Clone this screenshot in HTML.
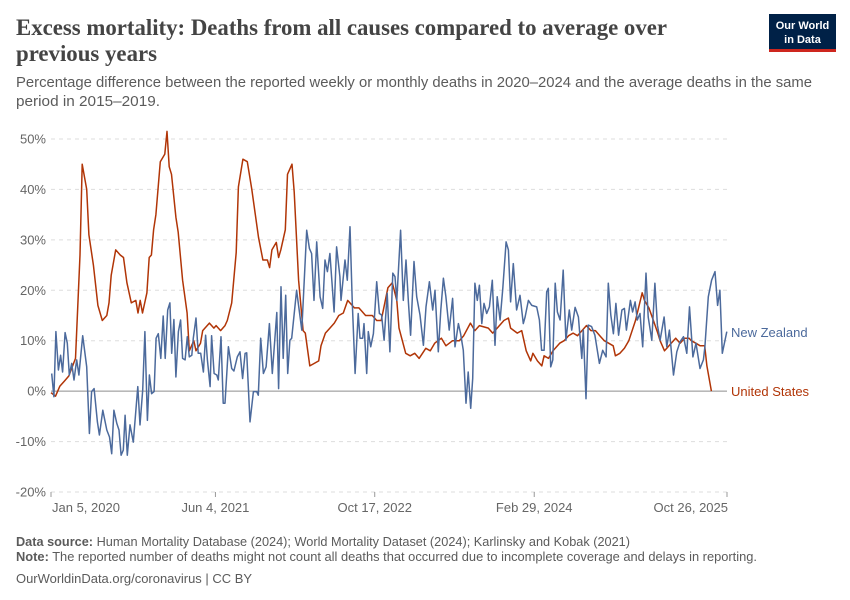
<!DOCTYPE html>
<html><head><meta charset="utf-8"><style>
html,body{margin:0;padding:0;background:#fff;width:850px;height:600px;overflow:hidden}
svg{display:block;font-family:"Liberation Sans",sans-serif}
</style></head><body>
<svg id="chart" width="850" height="600" viewBox="0 0 850 600">
<text x="16" y="35" font-family="Liberation Serif,serif" font-size="23" font-weight="bold" fill="#444" textLength="651" lengthAdjust="spacingAndGlyphs">Excess mortality: Deaths from all causes compared to average over</text>
<text x="16" y="61" font-family="Liberation Serif,serif" font-size="23" font-weight="bold" fill="#444" textLength="141" lengthAdjust="spacingAndGlyphs">previous years</text>
<g>
<rect x="769" y="14" width="67" height="38" fill="#002147"/>
<rect x="769" y="49" width="67" height="3" fill="#ce261e"/>
<text x="802.5" y="29" text-anchor="middle" font-size="11" font-weight="bold" fill="#fff">Our World</text>
<text x="802.5" y="43" text-anchor="middle" font-size="11" font-weight="bold" fill="#fff">in Data</text>
</g>
<text x="16" y="87" font-size="14.5" fill="#5b5b5b" textLength="796" lengthAdjust="spacingAndGlyphs">Percentage difference between the reported weekly or monthly deaths in 2020–2024 and the average deaths in the same</text>
<text x="16" y="106" font-size="14.5" fill="#5b5b5b" textLength="144" lengthAdjust="spacingAndGlyphs">period in 2015–2019.</text>
<g id="grid"></g>
<g id="yticks"></g>
<g id="xticks"></g>
<g id="series"></g>
<text x="731" y="337" font-size="13" fill="#4c6a9c">New Zealand</text>
<text x="731" y="396" font-size="13" fill="#b13507">United States</text>
<text x="16" y="546" font-size="12.5" fill="#5b5b5b" textLength="614" lengthAdjust="spacingAndGlyphs"><tspan font-weight="bold">Data source:</tspan> Human Mortality Database (2024); World Mortality Dataset (2024); Karlinsky and Kobak (2021)</text>
<text x="16" y="561" font-size="12.5" fill="#5b5b5b" textLength="741" lengthAdjust="spacingAndGlyphs"><tspan font-weight="bold">Note:</tspan> The reported number of deaths might not count all deaths that occurred due to incomplete coverage and delays in reporting.</text>
<text x="16" y="583" font-size="12.5" fill="#5b5b5b" textLength="236" lengthAdjust="spacingAndGlyphs">OurWorldinData.org/coronavirus | CC BY</text>
</svg>
<script>
const yTicks=[50,40,30,20,10,0,-10,-20];
const xTickLabels=["Jan 5, 2020","Jun 4, 2021","Oct 17, 2022","Feb 29, 2024","Oct 26, 2025"];
const xTickWeeks=[0,73.7,145.1,216.6,303];
const usWeek=[0,2,4,6,8,11,13,14,16,17,19,21,23,25,26,27,29,31,32.5,34,36,38,39,40,41,43,44,45,46,47,49,51,52,53,54,56,57,59,61,62,64,65,67,68,71,73,74,76,78,79,81,83,84,86,88,90,93,95,97,98,99,101,102,103,105,106,108,109,111,113,114,116,118,120,121,123,125,127,129,131,133,136,138,141,144,146,148,151,153,155,156,159,161,163,165,168,170,172,175,177,180,183,185,188,190,192,196,198,200,203,205,206,209,211,213,215,216,218,220,221,223,225,228,230,232,234,236,238,240,242,244,246,248,252,253,255,257,259,262,265,266,268,270,272,273,275,276,278,280,282,284,286,287,289,291,292,293,294,296];
const usValue=[-0.3,-1,1,2,3,6.5,27,45,40,31,25,17,14,15,17.5,23,28,27,26.5,21.5,17.5,18,15.5,18,15.5,19.5,26.5,27,32,35,45.5,47,51.5,44.5,43,34.5,31.5,22,15.5,8,10,8,9.5,12,13.5,12.5,13,12,13,14,17.5,27.5,40.5,46,45.5,40,30.5,26,26,24.5,28,29.5,26.5,28,32,43,45,39.5,22,12,11.5,5,5.5,6,9,11.5,12.5,13.5,15,15.5,18,16.5,16.5,15,15,14,14,20.5,21.5,18,12.5,7.5,7,7.5,6.5,8.5,8,9.5,10.5,9,10,10,11,13.5,12,13,12.5,11.5,12.5,14,14.5,12.5,11.5,12,8,6,7.5,6,5,7,6.5,8,9.5,10,11,11.5,11,12,13,12,12,11,10,9,7,7.5,8.5,10,14,19.5,18,16.5,14,11.5,10,8,8.5,9.5,10.5,9.5,10.5,10.5,10,9.5,9,9,9,5,0];
const nzWeek=[0.3,1.3,2.2,3.3,4.3,5.2,6.3,7.3,8.2,9.3,10.3,11.5,12.5,14.2,16,17.2,18.2,19.3,20.8,21.7,23.2,25,26.2,27.2,28.2,29.5,30.5,31.4,32.4,33.2,34.2,35.4,36.9,38.9,39.9,41.1,42.1,43.2,44.1,45.1,46.2,47.1,48.1,49.2,50.3,51.2,52.3,53.3,54.1,55.1,56,57.1,58.1,59,60.1,61.1,62,63.1,63.8,65,66,67.1,68.3,69.3,70.1,71.3,72,73.1,74.3,75,76.2,77.2,78,79.5,81,82,83.5,84.7,85.9,87,87.7,89.2,90.7,92.2,92.9,94,95.2,96.4,97.9,99.2,101.2,102,103.1,104.1,105.2,106.1,107.1,107.9,110.1,112.4,114.6,115.8,116.8,117.9,119.1,120.6,121.8,122.8,123.9,125,126.9,128,129.5,130,131.8,132.8,134,135,136.3,137.7,138.5,139.7,140.3,141.5,142.2,143.3,144.5,146,147.2,148.2,149.3,150.7,151.9,153.2,154.2,155,156.7,157.9,159.1,160.2,161.2,162.7,163.9,165.4,166.9,168.1,169.6,171.1,172.1,173.6,174.7,175.9,177,178.5,180,181.1,182.6,183.6,184.8,186,187,188.1,189,190,191.1,192,193.1,194.1,195.3,196.5,197.8,199,200,201.3,202.5,204,205,206,207.2,208.7,210.2,211.7,212.5,214,215.5,217.7,218.9,219.9,221,222.2,222.9,224,224.9,226,227,228.2,229.6,230.8,232.3,233.4,234.9,236.4,237.9,238.6,239.8,240.8,242.3,243.8,245.8,247.3,248.8,249.8,250.9,252.1,253.2,254.4,255.9,257,257.9,259.7,260.7,261.8,262.8,264,265.2,266.7,267.7,269.3,270.7,271.8,273,274.8,276,277.2,279,280.5,282,283.5,285,286.2,287.7,289.1,290.9,292.4,293.1,294.6,296.1,297.6,298.8,299.8,300.9,302.9];
const nzValue=[3.5,-1.1,11.8,4.2,7.1,3.8,11.6,9.5,3.2,5.5,2.2,6.2,3.2,11,4.8,-8.4,-0.1,0.5,-6.1,-8.7,-3.8,-7.7,-9.1,-12.4,-3.8,-6.4,-7.7,-12.7,-11.7,-4.8,-12.7,-6.7,-10.1,0.9,-6.7,0.2,11.8,-5.8,3.2,-0.5,-0.1,10.5,11.4,6.5,14.9,6.5,16.1,17.5,7.5,14.2,2.8,11.8,14.1,6.5,6.2,10.8,6.8,7.1,10.5,14.5,7.5,7.5,3.8,11.1,6.2,0.9,11,3.5,3.2,2.2,10.8,-2.4,-2.4,8.8,4.5,4,6.8,7.8,2.5,7.5,7.6,-6.1,-0.1,-0.1,-0.8,10.5,3.5,4.8,13.4,3.5,15.6,0.5,20.7,6.5,19,3.5,10.1,10.5,20,12.1,31.9,28.3,27.3,18,29.6,18.7,16.4,26,23.7,27.3,15.7,28.6,22.7,18,26,22,32.6,18,3.5,15.4,10.5,10.5,13.4,3.5,11.8,8.8,11.4,21.7,15.4,15.1,10.1,19.4,7.8,23.4,22.7,18,31.9,18,26,17.7,11.1,25.7,18.7,15.1,9.1,16.7,21.7,16.1,20,7.8,16.1,22.4,18.7,12.1,18.4,8.8,13.4,11.4,8.1,-2.4,3.8,-3.4,2.5,21.4,18,21,13.4,17.4,15.4,16.7,22,9.1,18.7,14.1,20.4,29.6,28,17.7,25.3,16.1,19,13.4,14.7,18,17,16.7,14.1,8.1,8.1,19.7,20.4,4.8,6.2,21.4,15.7,14.1,24,10.1,16.1,12.1,16.6,14.7,6.5,12.1,-1.5,13.1,12.8,11.1,5.5,8.1,6.8,21.4,15.1,11.4,17.4,11.1,16.1,16.4,12.1,18,15.7,17.7,14.1,15.4,8.8,23.4,14.7,10.1,21.4,13.1,10.1,14.7,8.8,12.1,3.2,7.8,9.8,10.8,7.5,16.7,6.8,9.5,4.5,6.2,8.8,18.7,22,23.7,17,20,7.5,11.8];

const NS='http://www.w3.org/2000/svg';
const X0=51,X1=727,W0=0,W1=303;
const Y50=139,YM20=492;
function xs(w){return X0+(w-W0)/(W1-W0)*(X1-X0);}
function ys(v){return Y50+(50-v)/70*(YM20-Y50);}
function mk(tag,attrs,parent){const e=document.createElementNS(NS,tag);for(const k in attrs)e.setAttribute(k,attrs[k]);parent.appendChild(e);return e;}
const grid=document.getElementById('grid'),yt=document.getElementById('yticks'),xt=document.getElementById('xticks'),ser=document.getElementById('series');
yTicks.forEach(v=>{
  const l=mk('line',{x1:X0,x2:X1,y1:ys(v),y2:ys(v),stroke:v===0?'#8e8e8e':'#dddddd','stroke-width':1,'stroke-dasharray':v===0?'none':'4,4'},grid);
  
  
  const t=mk('text',{x:46,y:ys(v)+4.5,'text-anchor':'end','font-size':13,fill:'#666'},yt);
  t.textContent=v+'%';
  
  
});
xTickLabels.forEach((lab,i)=>{
  const x=xs(xTickWeeks[i]);
  const tk=mk('line',{x1:x,x2:x,y1:492,y2:497,stroke:'#999','stroke-width':1},xt);
  
  
  const anchor=i===0?'start':(i===xTickLabels.length-1?'end':'middle');
  const t=mk('text',{x:i===0?x+1:(i===xTickLabels.length-1?x+1:x),y:512,'text-anchor':anchor,'font-size':13,fill:'#666'},xt);
  t.textContent=lab;
  
  
});
function line(weeks,vals,color,name){
  const d=weeks.map((w,i)=>(i?'L':'M')+xs(w).toFixed(1)+','+ys(vals[i]).toFixed(1)).join('');
  const p=mk('path',{d:d,fill:'none',stroke:color,'stroke-width':1.5,'stroke-linejoin':'round'},ser);
  
  
}
line(usWeek,usValue,'#b13507','united-states-line');
line(nzWeek,nzValue,'#4c6a9c','new-zealand-line');
</script>
</body></html>
